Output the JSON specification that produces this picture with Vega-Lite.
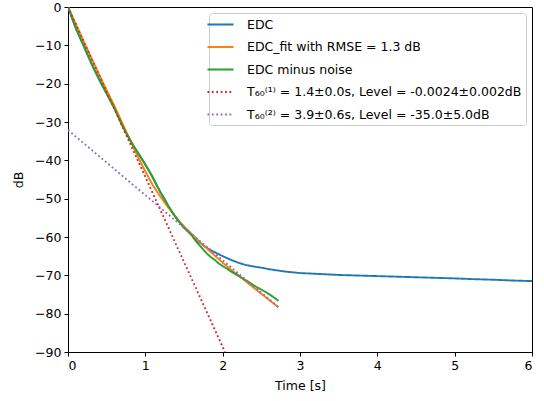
{
  "$schema": "https://vega.github.io/schema/vega-lite/v6.json",
  "autosize": "none",
  "width": 464,
  "height": 345,
  "padding": {"left": 68, "top": 7, "right": 12, "bottom": 49},
  "background": "white",
  "config": {
    "font": "DejaVu Sans",
    "view": {"stroke": "black", "strokeWidth": 1},
    "axis": {
      "grid": false, "domain": false, "tickColor": "black", "tickSize": 4, "tickWidth": 1,
      "labelColor": "black", "labelFontSize": 12.5, "labelFont": "DejaVu Sans",
      "titleFontSize": 12.5, "titleFont": "DejaVu Sans", "titleFontWeight": "normal", "titleColor": "black", "labelPadding": 3
    },
    "legend": {
      "orient": "top-right", "offset": 6, "strokeColor": "#cccccc", "fillColor": "white",
      "padding": 4, "cornerRadius": 3, "symbolType": "M-2,0H2", "symbolSize": 170,
      "symbolStrokeWidth": 1.8, "labelFontSize": 12.5, "labelFont": "DejaVu Sans", "labelColor": "black",
      "labelOffset": 19, "rowPadding": 8.5, "labelLimit": 0
    }
  },
  "data": {"values": [
    {"s": "EDC", "t": 0, "v": 0}, {"s": "EDC", "t": 0.03, "v": -1.6}, {"s": "EDC", "t": 0.1, "v": -5.5}, {"s": "EDC", "t": 0.2, "v": -10.0}, {"s": "EDC", "t": 0.3, "v": -14.6}, {"s": "EDC", "t": 0.4, "v": -18.8}, {"s": "EDC", "t": 0.5, "v": -22.6}, {"s": "EDC", "t": 0.6, "v": -26.4}, {"s": "EDC", "t": 0.7, "v": -30.8}, {"s": "EDC", "t": 0.75, "v": -32.8}, {"s": "EDC", "t": 0.8, "v": -34.6}, {"s": "EDC", "t": 0.85, "v": -36.3}, {"s": "EDC", "t": 0.9, "v": -37.9}, {"s": "EDC", "t": 0.95, "v": -39.5}, {"s": "EDC", "t": 1.0, "v": -41.1}, {"s": "EDC", "t": 1.05, "v": -42.8}, {"s": "EDC", "t": 1.1, "v": -44.6}, {"s": "EDC", "t": 1.15, "v": -46.6}, {"s": "EDC", "t": 1.2, "v": -48.5}, {"s": "EDC", "t": 1.25, "v": -50.2}, {"s": "EDC", "t": 1.3, "v": -52.0}, {"s": "EDC", "t": 1.35, "v": -53.6}, {"s": "EDC", "t": 1.4, "v": -55.0}, {"s": "EDC", "t": 1.45, "v": -56.4}, {"s": "EDC", "t": 1.5, "v": -57.5}, {"s": "EDC", "t": 1.55, "v": -58.4}, {"s": "EDC", "t": 1.6, "v": -59.4}, {"s": "EDC", "t": 1.65, "v": -60.5}, {"s": "EDC", "t": 1.7, "v": -61.4}, {"s": "EDC", "t": 1.75, "v": -62.2}, {"s": "EDC", "t": 1.8, "v": -62.9}, {"s": "EDC", "t": 1.85, "v": -63.5}, {"s": "EDC", "t": 1.9, "v": -64.0}, {"s": "EDC", "t": 2.0, "v": -65.0}, {"s": "EDC", "t": 2.1, "v": -65.9}, {"s": "EDC", "t": 2.2, "v": -66.7}, {"s": "EDC", "t": 2.3, "v": -67.3}, {"s": "EDC", "t": 2.4, "v": -67.7}, {"s": "EDC", "t": 2.5, "v": -68.0}, {"s": "EDC", "t": 2.6, "v": -68.4}, {"s": "EDC", "t": 2.7, "v": -68.7}, {"s": "EDC", "t": 2.8, "v": -69.0}, {"s": "EDC", "t": 3.0, "v": -69.4}, {"s": "EDC", "t": 3.25, "v": -69.65}, {"s": "EDC", "t": 3.5, "v": -69.9}, {"s": "EDC", "t": 3.75, "v": -70.05}, {"s": "EDC", "t": 4.0, "v": -70.2}, {"s": "EDC", "t": 4.25, "v": -70.35}, {"s": "EDC", "t": 4.5, "v": -70.5}, {"s": "EDC", "t": 4.75, "v": -70.65}, {"s": "EDC", "t": 5.0, "v": -70.8}, {"s": "EDC", "t": 5.25, "v": -71.0}, {"s": "EDC", "t": 5.5, "v": -71.15}, {"s": "EDC", "t": 5.75, "v": -71.35}, {"s": "EDC", "t": 6.0, "v": -71.5},

    {"s": "fit", "t": 0, "v": 0}, {"s": "fit", "t": 0.1, "v": -4.4}, {"s": "fit", "t": 0.2, "v": -8.8}, {"s": "fit", "t": 0.3, "v": -13.2}, {"s": "fit", "t": 0.4, "v": -17.5}, {"s": "fit", "t": 0.5, "v": -21.7}, {"s": "fit", "t": 0.6, "v": -25.8}, {"s": "fit", "t": 0.7, "v": -30.2}, {"s": "fit", "t": 0.8, "v": -34.6}, {"s": "fit", "t": 0.9, "v": -38.9}, {"s": "fit", "t": 1.0, "v": -42.9}, {"s": "fit", "t": 1.1, "v": -46.6}, {"s": "fit", "t": 1.2, "v": -49.6}, {"s": "fit", "t": 1.3, "v": -52.4}, {"s": "fit", "t": 1.4, "v": -55.0}, {"s": "fit", "t": 1.5, "v": -57.2}, {"s": "fit", "t": 1.6, "v": -59.2}, {"s": "fit", "t": 1.7, "v": -61.2}, {"s": "fit", "t": 1.8, "v": -63.1}, {"s": "fit", "t": 1.9, "v": -64.9}, {"s": "fit", "t": 2.0, "v": -66.7}, {"s": "fit", "t": 2.1, "v": -68.4}, {"s": "fit", "t": 2.2, "v": -70.0}, {"s": "fit", "t": 2.3, "v": -71.6}, {"s": "fit", "t": 2.4, "v": -73.2}, {"s": "fit", "t": 2.5, "v": -74.8}, {"s": "fit", "t": 2.6, "v": -76.4}, {"s": "fit", "t": 2.72, "v": -78.3},

    {"s": "noise", "t": 0, "v": 0}, {"s": "noise", "t": 0.03, "v": -1.6}, {"s": "noise", "t": 0.1, "v": -5.5}, {"s": "noise", "t": 0.2, "v": -10.0}, {"s": "noise", "t": 0.3, "v": -14.6}, {"s": "noise", "t": 0.4, "v": -18.8}, {"s": "noise", "t": 0.5, "v": -22.6}, {"s": "noise", "t": 0.6, "v": -26.4}, {"s": "noise", "t": 0.7, "v": -30.8}, {"s": "noise", "t": 0.75, "v": -32.8}, {"s": "noise", "t": 0.8, "v": -34.6}, {"s": "noise", "t": 0.85, "v": -36.3}, {"s": "noise", "t": 0.9, "v": -37.9}, {"s": "noise", "t": 0.95, "v": -39.5}, {"s": "noise", "t": 1.0, "v": -41.1}, {"s": "noise", "t": 1.05, "v": -42.8}, {"s": "noise", "t": 1.1, "v": -44.6}, {"s": "noise", "t": 1.15, "v": -46.6}, {"s": "noise", "t": 1.2, "v": -48.5}, {"s": "noise", "t": 1.25, "v": -50.2}, {"s": "noise", "t": 1.3, "v": -52.0}, {"s": "noise", "t": 1.35, "v": -53.6}, {"s": "noise", "t": 1.4, "v": -55.0}, {"s": "noise", "t": 1.45, "v": -56.4}, {"s": "noise", "t": 1.5, "v": -57.6}, {"s": "noise", "t": 1.55, "v": -58.6}, {"s": "noise", "t": 1.6, "v": -59.6}, {"s": "noise", "t": 1.65, "v": -61.0}, {"s": "noise", "t": 1.7, "v": -62.2}, {"s": "noise", "t": 1.75, "v": -63.3}, {"s": "noise", "t": 1.8, "v": -64.4}, {"s": "noise", "t": 1.85, "v": -65.3}, {"s": "noise", "t": 1.9, "v": -66.0}, {"s": "noise", "t": 1.95, "v": -66.9}, {"s": "noise", "t": 2.0, "v": -67.6}, {"s": "noise", "t": 2.05, "v": -68.2}, {"s": "noise", "t": 2.1, "v": -68.9}, {"s": "noise", "t": 2.15, "v": -69.5}, {"s": "noise", "t": 2.2, "v": -70.1}, {"s": "noise", "t": 2.25, "v": -70.7}, {"s": "noise", "t": 2.3, "v": -71.3}, {"s": "noise", "t": 2.35, "v": -71.9}, {"s": "noise", "t": 2.4, "v": -72.6}, {"s": "noise", "t": 2.45, "v": -73.2}, {"s": "noise", "t": 2.5, "v": -73.7}, {"s": "noise", "t": 2.55, "v": -74.3}, {"s": "noise", "t": 2.6, "v": -74.9}, {"s": "noise", "t": 2.65, "v": -75.6}, {"s": "noise", "t": 2.7, "v": -76.3}, {"s": "noise", "t": 2.72, "v": -76.7},

    {"s": "t1", "t": 0, "v": 0}, {"s": "t1", "t": 2.03, "v": -90},
    {"s": "t2", "t": 0, "v": -32.1}, {"s": "t2", "t": 2.72, "v": -78.3}
  ]},
  "encoding": {
    "x": {"field": "t", "type": "quantitative", "title": "Time [s]", "scale": {"domain": [0, 6], "nice": false, "zero": false}, "axis": {"values": [0, 1, 2, 3, 4, 5, 6], "format": "d", "titlePadding": 8}},
    "y": {"field": "v", "type": "quantitative", "title": "dB", "scale": {"domain": [-90, 0], "nice": false, "zero": false}, "axis": {"values": [0, -10, -20, -30, -40, -50, -60, -70, -80, -90], "format": "d", "titlePadding": 9}},
    "color": {"field": "s", "type": "nominal", "title": null,
      "scale": {"domain": ["EDC", "fit", "noise", "t1", "t2"], "range": ["#1f77b4", "#ff7f0e", "#2ca02c", "#d62728", "#9467bd"]},
      "legend": {"labelExpr": "datum.value == 'EDC' ? 'EDC' : datum.value == 'fit' ? 'EDC_fit with RMSE = 1.3 dB' : datum.value == 'noise' ? 'EDC minus noise' : datum.value == 't1' ? 'T₆₀⁽¹⁾ = 1.4±0.0s, Level = -0.0024±0.002dB' : 'T₆₀⁽²⁾ = 3.9±0.6s, Level = -35.0±5.0dB'"}},
    "strokeDash": {"field": "s", "type": "nominal", "title": null,
      "scale": {"domain": ["EDC", "fit", "noise", "t1", "t2"], "range": [[1, 0], [1, 0], [1, 0], [1.8, 2.6], [1.8, 2.6]]},
      "legend": {"labelExpr": "datum.value == 'EDC' ? 'EDC' : datum.value == 'fit' ? 'EDC_fit with RMSE = 1.3 dB' : datum.value == 'noise' ? 'EDC minus noise' : datum.value == 't1' ? 'T₆₀⁽¹⁾ = 1.4±0.0s, Level = -0.0024±0.002dB' : 'T₆₀⁽²⁾ = 3.9±0.6s, Level = -35.0±5.0dB'"}}
  },
  "layer": [
    {"transform": [{"filter": "datum.s == 'EDC'"}], "mark": {"type": "line", "strokeWidth": 1.9, "clip": true}},
    {"transform": [{"filter": "datum.s == 'fit'"}], "mark": {"type": "line", "strokeWidth": 1.9, "clip": true}},
    {"transform": [{"filter": "datum.s == 'noise'"}], "mark": {"type": "line", "strokeWidth": 1.9, "clip": true}},
    {"transform": [{"filter": "datum.s == 't1'"}], "mark": {"type": "line", "strokeWidth": 1.9, "clip": true}},
    {"transform": [{"filter": "datum.s == 't2'"}], "mark": {"type": "line", "strokeWidth": 1.9, "clip": true}}
  ]
}
